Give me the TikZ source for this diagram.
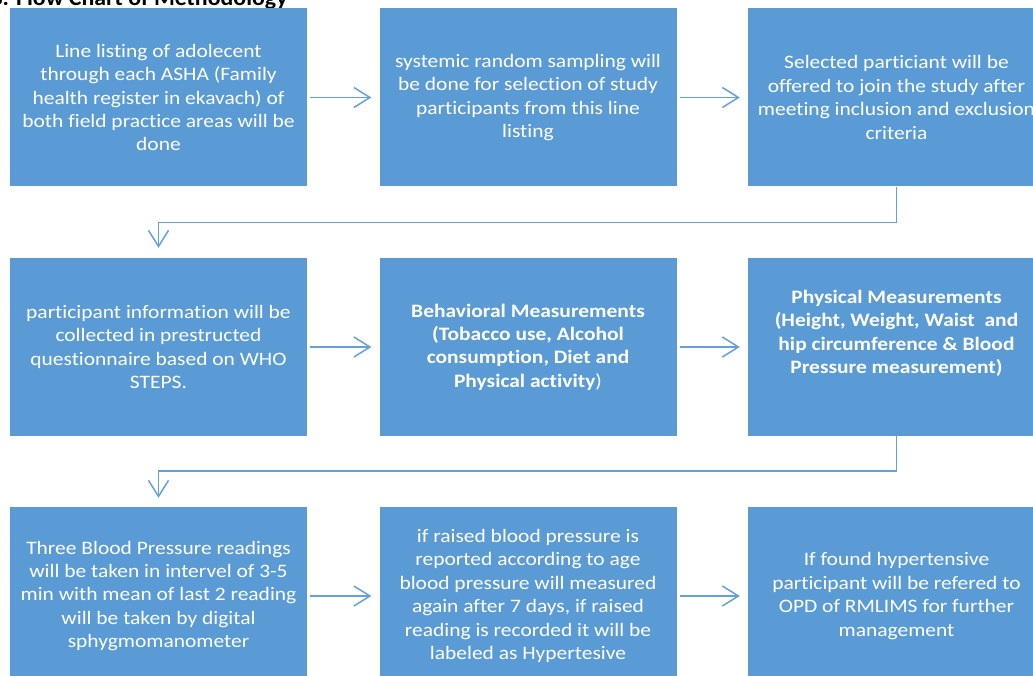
\documentclass[tikz,border=0pt]{standalone}
\usepackage{fontspec}
\setmainfont{Carlito}
\newfontfamily\boxfont[FakeStretch=1.13,Ligatures=NoCommon]{Carlito}
\newfontfamily\titlefont[FakeStretch=1.06]{Carlito}
\usetikzlibrary{arrows.meta}
\usetikzlibrary{positioning}
\definecolor{boxblue}{RGB}{91,155,213}
\definecolor{lineblue}{RGB}{100,160,218}
\tikzset{stepbox/.style={rectangle,fill=boxblue,text=white,align=center,minimum width=297pt,minimum height=178pt,inner sep=0pt,font=\boxfont\fontsize{19}{23.4}\selectfont},flow/.style={draw=lineblue,line width=1.5pt,-{Straight Barb[length=16pt,width=20pt]}}}

\begin{document}
\begin{tikzpicture}[x=1pt,y=1pt]
\clip (0,0) rectangle (1033,-676);
\useasboundingbox (0,0) rectangle (1033,-676);

\node (title) at (-13,-6) [anchor=base west,font=\titlefont\fontsize{22.5}{26}\selectfont\bfseries] {3. Flow Chart of Methodology};

% first row
\node (list) at (158.5,-97.5) [stepbox] {Line listing of adolecent\\through each ASHA (Family\\health register in ekavach) of\\both field practice areas will be\\done};
\node (sample) at (528,-97.5) [stepbox] {systemic random sampling will\\be done for selection of study\\participants from this line\\listing};
\node (select) at (896.5,-97.5) [stepbox] {Selected particiant will be\\offered to join the study after\\meeting inclusion and exclusion\\criteria};

% second row
\node (info) at (158.5,-347) [stepbox] {participant information will be\\collected in prestructed\\questionnaire based on WHO\\STEPS.};
\node (behav) at (528,-347) [stepbox] {\textbf{Behavioral Measurements}\\\textbf{(Tobacco use, Alcohol}\\\textbf{consumption, Diet and}\\\textbf{Physical activity})};
\node (phys) at (896.5,-347) [stepbox] {\textbf{Physical Measurements}\\\textbf{(Height, Weight, Waist\ \ and}\\\textbf{hip circumference \& Blood}\\\textbf{Pressure measurement)}\\\strut};

% third row
\node (bp) at (158.5,-596) [stepbox] {Three Blood Pressure readings\\will be taken in intervel of 3-5\\min with mean of last 2 reading\\will be taken by digital\\sphygmomanometer};
\node (raised) at (528,-596) [stepbox] {if raised blood pressure is\\reported according to age\\blood pressure will measured\\again after 7 days, if raised\\reading is recorded it will be\\labeled as Hypertesive};
\node (refer) at (896.5,-596) [stepbox] {If found hypertensive\\participant will be refered to\\OPD of RMLIMS for further\\management};

\draw [flow,shorten <=3pt,shorten >=8pt] (list) -- (sample);
\draw [flow,shorten <=3pt,shorten >=8pt] (sample) -- (select);
\draw [flow,shorten >=10pt] (select.south) -- ++(0,-36) -| (info.north);
\draw [flow,shorten <=3pt,shorten >=8pt] (info) -- (behav);
\draw [flow,shorten <=3pt,shorten >=8pt] (behav) -- (phys);
\draw [flow,shorten >=9pt] (phys.south) -- ++(0,-35) -| (bp.north);
\draw [flow,shorten <=3pt,shorten >=8pt] (bp) -- (raised);
\draw [flow,shorten <=3pt,shorten >=8pt] (raised) -- (refer);
\end{tikzpicture}
\end{document}
